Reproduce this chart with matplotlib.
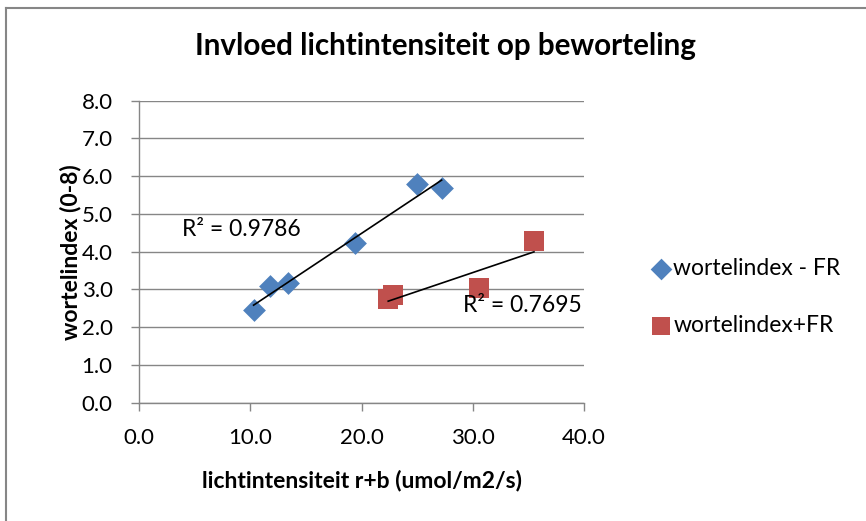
import numpy as np
import matplotlib.pyplot as plt
from matplotlib.lines import Line2D

plt.rcParams["font.family"] = ["Lato", "DejaVu Sans"]

# data
licht_min_fr = [10.3, 11.8, 13.4, 19.4, 25.0, 27.2]
wortel_min_fr = [2.45, 3.08, 3.16, 4.22, 5.79, 5.68]

licht_plus_fr = [22.4, 22.8, 30.6, 35.5]
wortel_plus_fr = [2.75, 2.85, 3.03, 4.29]

label_min_fr = "wortelindex - FR"
label_plus_fr = "wortelindex+FR"
r2_min_fr = "R² = 0.9786"
r2_plus_fr = "R² = 0.7695"

blue = "#4F81BD"
red = "#C0504D"
grid_gray = "#868686"

fig = plt.figure(figsize=(8.66, 5.21), dpi=100)
ax = fig.add_axes([0.1605, 0.2271, 0.5139, 0.5796])

ax.scatter(licht_min_fr, wortel_min_fr, marker="D", s=135, color=blue,
           label=label_min_fr, zorder=3, linewidths=0)
ax.scatter(licht_plus_fr, wortel_plus_fr, marker="s", s=200, color=red,
           label=label_plus_fr, zorder=3, linewidths=0)

# linear trendlines over the data range
for xs, ys in [(licht_min_fr, wortel_min_fr), (licht_plus_fr, wortel_plus_fr)]:
    k, b = np.polyfit(xs, ys, 1)
    xx = np.array([min(xs), max(xs)])
    ax.plot(xx, k * xx + b, color="black", lw=1.2, zorder=4)

ax.text(3.85, 4.6, r2_min_fr, fontsize=16.5, va="center", ha="left", zorder=5)
ax.text(29.1, 2.58, r2_plus_fr, fontsize=16.5, va="center", ha="left", zorder=5)

ax.set_xlim(0, 40)
ax.set_ylim(0, 8)
ax.set_xticks(np.arange(0, 41, 10))
ax.set_yticks(np.arange(0, 8.1, 1))
ax.set_xticklabels([f"{v:.1f}" for v in np.arange(0, 41, 10)])
ax.set_yticklabels([f"{v:.1f}" for v in np.arange(0, 8.1, 1)])
ax.tick_params(labelsize=16, color=grid_gray, length=6, width=1)
ax.tick_params(axis="y", pad=13)
ax.tick_params(axis="x", pad=12)
ax.grid(axis="y", color=grid_gray, lw=1)
ax.set_axisbelow(True)
for side in ["top", "right"]:
    ax.spines[side].set_visible(False)
for side in ["left", "bottom"]:
    ax.spines[side].set_color(grid_gray)
    ax.spines[side].set_linewidth(1)

ax.set_xlabel("lichtintensiteit r+b (umol/m2/s)", fontsize=16.5, fontweight="bold", labelpad=16)
ax.set_ylabel("wortelindex (0-8)", fontsize=16.5, fontweight="bold", labelpad=0)
fig.text(0.515, 0.912, "Invloed lichtintensiteit op beworteling", fontsize=21.3,
         fontweight="bold", ha="center", va="center")

ax.legend(loc="center left", bbox_to_anchor=(1.1, 0.35), frameon=False,
          fontsize=16.5, handletextpad=0.05, labelspacing=1.55, markerscale=0.95,
          handlelength=1.0)

# chart border (only top and left edges fall inside the image)
fig.add_artist(Line2D([0.007, 1.0], [0.985, 0.985], transform=fig.transFigure,
                      color=grid_gray, lw=1.5))
fig.add_artist(Line2D([0.007, 0.007], [0.0, 0.985], transform=fig.transFigure,
                      color=grid_gray, lw=1.5))

fig.savefig("out.png", dpi=100)
